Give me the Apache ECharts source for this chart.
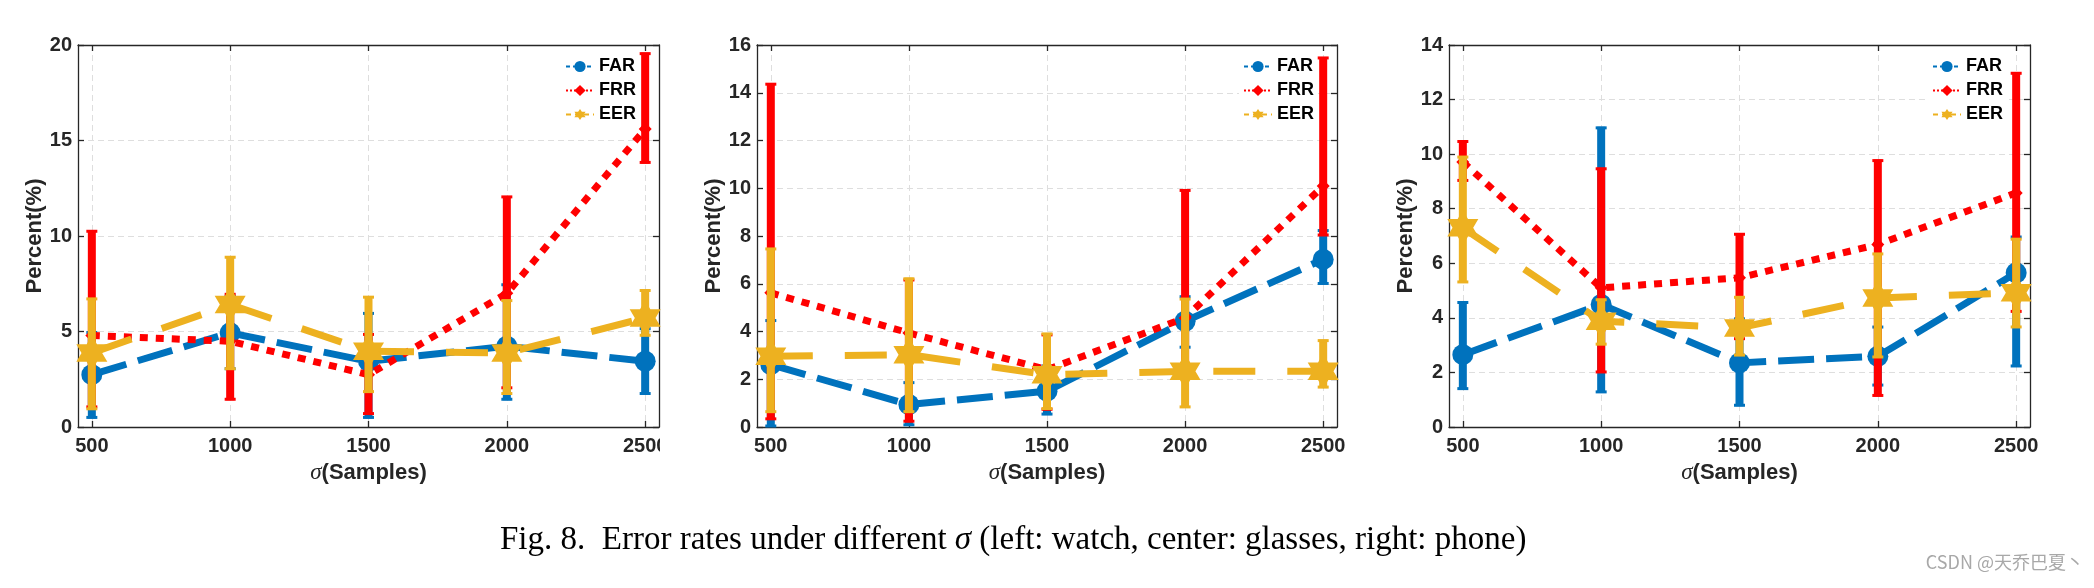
<!DOCTYPE html>
<html>
<head>
<meta charset="utf-8">
<script src="https://cdn.jsdelivr.net/npm/echarts@6/dist/echarts.min.js"></script>
<style>
html,body{margin:0;padding:0;background:#fff;}
#chart{width:2094px;height:588px;}
</style>
</head>
<body>
<div id="chart"></div>
<script>
// ---------- data ----------
const xValues = [500, 1000, 1500, 2000, 2500];
const seriesNames = ['FAR', 'FRR', 'EER'];

// left panel: watch
const watchFAR      = [2.74, 4.93, 3.44, 4.23, 3.44];
const watchFARLow   = [0.45, 3.0, 0.45, 1.4, 1.7];
const watchFARHigh  = [5.0, 6.9, 6.0, 7.5, 5.2];
const watchFRR      = [4.79, 4.49, 2.74, 7.0, 15.6];
const watchFRRLow   = [1.0, 1.4, 0.65, 2.0, 13.8];
const watchFRRHigh  = [10.3, 7.0, 4.9, 12.1, 19.6];
const watchEER      = [3.88, 6.41, 3.97, 3.88, 5.71];
const watchEERLow   = [0.9, 3.0, 1.8, 1.7, 4.75];
const watchEERHigh  = [6.76, 8.94, 6.85, 6.67, 7.2];

// center panel: glasses
const glassesFAR     = [2.61, 0.94, 1.50, 4.43, 7.02];
const glassesFARLow  = [0.0, 0.05, 0.5, 3.3, 5.97];
const glassesFARHigh = [4.5, 1.9, 2.6, 5.5, 8.27];
const glassesFRR     = [5.62, 3.94, 2.40, 4.57, 10.09];
const glassesFRRLow  = [0.3, 0.2, 0.7, 2.5, 8.0];
const glassesFRRHigh = [14.4, 6.2, 3.9, 9.95, 15.5];
const glassesEER     = [2.96, 3.03, 2.19, 2.33, 2.33];
const glassesEERLow  = [0.6, 0.6, 0.73, 0.8, 1.63];
const glassesEERHigh = [7.5, 6.25, 3.94, 5.4, 3.66];

// right panel: phone
const phoneFAR      = [2.65, 4.49, 2.35, 2.59, 5.65];
const phoneFARLow   = [1.37, 1.25, 0.76, 1.5, 2.2];
const phoneFARHigh  = [4.6, 11.0, 4.0, 3.7, 7.0];
const phoneFRR      = [9.71, 5.10, 5.47, 6.69, 8.58];
const phoneFRRLow   = [9.0, 1.98, 3.2, 1.12, 4.2];
const phoneFRRHigh  = [10.5, 9.5, 7.1, 9.8, 13.0];
const phoneEER      = [7.30, 3.88, 3.63, 4.73, 4.92];
const phoneEERLow   = [5.28, 3.0, 2.6, 2.53, 3.63];
const phoneEERHigh  = [9.93, 4.7, 4.79, 6.38, 6.92];

// y axis ticks per panel
const yMax = [20, 16, 14];
const yStep = [5, 2, 2];

const xAxisTitle = '{s|σ}(Samples)';
const yAxisTitle = 'Percent(%)';
const captionText = '{n|Fig. 8.  Error rates under different }{i|σ}{n| (left: watch, center: glasses, right: phone)}';
const watermarkText = 'CSDN @天乔巴夏丶';

// ---------- styling ----------
const panels = [
  {mean: [watchFAR, watchFRR, watchEER], low: [watchFARLow, watchFRRLow, watchEERLow], high: [watchFARHigh, watchFRRHigh, watchEERHigh]},
  {mean: [glassesFAR, glassesFRR, glassesEER], low: [glassesFARLow, glassesFRRLow, glassesEERLow], high: [glassesFARHigh, glassesFRRHigh, glassesEERHigh]},
  {mean: [phoneFAR, phoneFRR, phoneEER], low: [phoneFARLow, phoneFRRLow, phoneEERLow], high: [phoneFARHigh, phoneFRRHigh, phoneEERHigh]}
];
const gridBoxes = [
  {left: 78, width: 581},
  {left: 757, width: 580},
  {left: 1449, width: 581}
];
const legendLefts = [561, 1239, 1928];
const colors = ['#0072BD', '#FF0000', '#EDB120'];
const dashes = [[36, 12], [8, 8], [42, 32]];
const hexagram = 'path://M0,-100L29,-50L87,-50L58,0L87,50L29,50L0,100L-29,50L-87,50L-58,0L-87,-50L-29,-50Z';
const symbols = ['circle', 'diamond', hexagram];
const symbolSizes = [21, 13, [31, 35]];
const axisColor = '#262626';
const sans = 'Liberation Sans';

const grids = [], xAxes = [], yAxes = [], series = [], legends = [];

function renderErrorBar(params, api) {
  const x = api.value(0), lo = api.value(1), hi = api.value(2);
  const p1 = api.coord([x, lo]);
  const p2 = api.coord([x, hi]);
  const c = api.visual('color');
  return {
    type: 'group',
    children: [
      {type: 'line', shape: {x1: p1[0], y1: p1[1], x2: p2[0], y2: p2[1]}, style: {stroke: c, lineWidth: 8, lineCap: 'butt'}},
      {type: 'line', shape: {x1: p1[0] - 5.5, y1: p1[1] - 1, x2: p1[0] + 5.5, y2: p1[1] - 1}, style: {stroke: c, lineWidth: 3}},
      {type: 'line', shape: {x1: p2[0] - 5.5, y1: p2[1] + 1, x2: p2[0] + 5.5, y2: p2[1] + 1}, style: {stroke: c, lineWidth: 3}}
    ]
  };
}

panels.forEach((pan, p) => {
  grids.push({left: gridBoxes[p].left, width: gridBoxes[p].width, top: 45, height: 382, containLabel: false});
  // bottom x
  xAxes.push({
    type: 'value', gridIndex: p, min: 450, max: 2550, position: 'bottom',
    name: xAxisTitle, nameLocation: 'middle', nameGap: 34,
    nameTextStyle: {fontFamily: sans, fontWeight: 'bold', fontSize: 22, color: axisColor,
      rich: {s: {fontFamily: 'Liberation Serif', fontStyle: 'italic', fontWeight: 'normal', fontSize: 23, color: axisColor}}},
    axisLine: {show: true, onZero: false, lineStyle: {color: axisColor, width: 1.3}},
    axisTick: {show: true, inside: true, length: 6, customValues: xValues, lineStyle: {color: axisColor, width: 1.3}},
    axisLabel: {customValues: xValues, margin: 9, fontFamily: sans, fontWeight: 'bold', fontSize: 20, color: axisColor,
      formatter: v => String(v), showMinLabel: true, showMaxLabel: true},
    splitLine: {show: true, lineStyle: {color: '#dedede', width: 1, type: [6, 4]}}
  });
  // top x (box)
  xAxes.push({
    type: 'value', gridIndex: p, min: 450, max: 2550, position: 'top',
    axisLine: {show: true, onZero: false, lineStyle: {color: axisColor, width: 1.3}},
    axisTick: {show: true, inside: true, length: 6, customValues: xValues, lineStyle: {color: axisColor, width: 1.3}},
    axisLabel: {show: false}, splitLine: {show: false}
  });
  yAxes.push({
    type: 'value', gridIndex: p, min: 0, max: yMax[p], interval: yStep[p], position: 'left',
    name: yAxisTitle, nameLocation: 'middle', nameGap: 29, nameRotate: 90,
    nameTextStyle: {fontFamily: sans, fontWeight: 'bold', fontSize: 22, color: axisColor},
    axisLine: {show: true, onZero: false, lineStyle: {color: axisColor, width: 1.3}},
    axisTick: {show: true, inside: true, length: 6, lineStyle: {color: axisColor, width: 1.3}},
    axisLabel: {margin: 6, fontFamily: sans, fontWeight: 'bold', fontSize: 20, color: axisColor},
    splitLine: {show: true, lineStyle: {color: '#dedede', width: 1, type: [6, 4]}}
  });
  yAxes.push({
    type: 'value', gridIndex: p, min: 0, max: yMax[p], interval: yStep[p], position: 'right',
    axisLine: {show: true, onZero: false, lineStyle: {color: axisColor, width: 1.3}},
    axisTick: {show: true, inside: true, length: 6, lineStyle: {color: axisColor, width: 1.3}},
    axisLabel: {show: false}, splitLine: {show: false}
  });

  for (let k = 0; k < 3; k++) {
    const errData = xValues.map((x, i) => [x, pan.low[k][i], pan.high[k][i]]);
    series.push({
      name: seriesNames[k] + ' error', type: 'custom', xAxisIndex: 2 * p, yAxisIndex: 2 * p,
      renderItem: renderErrorBar, encode: {x: 0, y: [1, 2]}, data: errData,
      itemStyle: {color: colors[k]}, z: 2 + 2 * k, silent: true
    });
    series.push({
      name: seriesNames[k], type: 'line', xAxisIndex: 2 * p, yAxisIndex: 2 * p,
      data: xValues.map((x, i) => [x, pan.mean[k][i]]),
      symbol: symbols[k], symbolSize: symbolSizes[k], showSymbol: true,
      itemStyle: {color: colors[k], borderWidth: 0},
      lineStyle: {color: colors[k], width: 7, type: dashes[k], cap: 'butt'},
      z: 3 + 2 * k, silent: true, clip: false
    });
  }

  legends.push({
    orient: 'vertical', left: legendLefts[p], top: 53, padding: [4, 4, 4, 4],
    backgroundColor: '#ffffff', itemWidth: 28, itemHeight: 14, itemGap: 5,
    textStyle: {fontFamily: sans, fontWeight: 'bold', fontSize: 18, color: '#000', lineHeight: 19},
    data: [
      {name: 'FAR', lineStyle: {type: [4, 3], width: 2}},
      {name: 'FRR', lineStyle: {type: [2, 2], width: 2}},
      {name: 'EER', lineStyle: {type: [5, 4], width: 2}}
    ],
    selectedMode: false
  });
});

const chart = echarts.init(document.getElementById('chart'), null, {renderer: 'canvas'});
chart.setOption({
  animation: false,
  backgroundColor: '#ffffff',
  grid: grids, xAxis: xAxes, yAxis: yAxes, series: series, legend: legends,
  graphic: [
    // the source figure crops panel 1's last tick label at the axis box edge
    {type: 'rect', shape: {x: 660, y: 432, width: 24, height: 30}, style: {fill: '#ffffff'}, z: 100},
    {type: 'text', left: 500, top: 524, z: 100,
      style: {text: captionText, fill: '#000',
        rich: {n: {fontFamily: 'Liberation Serif', fontSize: 33, fill: '#000'},
               i: {fontFamily: 'Liberation Serif', fontStyle: 'italic', fontSize: 33, fill: '#000'}}}},
    {type: 'text', right: 10, top: 553, z: 100,
      style: {text: watermarkText, fill: '#a8a8a8', font: '18px "Noto Sans CJK SC"'}}
  ]
});
</script>
</body>
</html>
